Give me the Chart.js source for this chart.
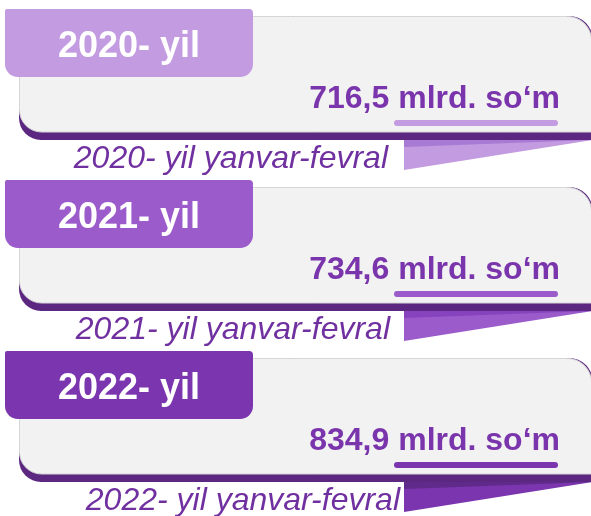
<!DOCTYPE html>
<html lang="uz">
<head>
<meta charset="UTF-8">
<title>Yanvar-fevral</title>
<script src="https://cdn.jsdelivr.net/npm/chart.js"></script>
<style>
    html, body { margin: 0; padding: 0; background: #fff; }
    .wrap { width: 591px; height: 516px; position: relative; }
</style>
</head>
<body>

<div class="wrap"><canvas id="yillar"></canvas></div>

<script>
    // Ma'lumotlar
    var years = ['2020', '2021', '2022'];
    var values = [716.5, 734.6, 834.9];
    var unit = 'mlrd. so‘m';
    var period = 'yanvar-fevral';

    // Ranglar (har bir yil uchun)
    var tabColors = ['#c39be0', '#9b5bcb', '#7b35ae'];
    var foldColors = ['#a87ad4', '#8743bd', '#5f2a8a'];
    var subRight = [388, 390, 400]; // pastki yozuv o'ng cheti

    function fmt(v) {
        return v.toFixed(1).replace('.', ',');
    }

    var cardsPlugin = {
        id: 'cards',
        afterDatasetsDraw: function(chart) {
            var ctx = chart.ctx;
            var ys = chart.scales.y;
            var half = (ys.getPixelForValue(1) - ys.getPixelForValue(0)) / 2;
            var vals = chart.data.datasets[0].data;

            chart.data.labels.forEach(function(year, i) {
                var t = ys.getPixelForValue(i) - half;
                ctx.save();

                // to'q binafsha pastki chiziq
                ctx.fillStyle = '#5c2780';
                ctx.beginPath();
                ctx.roundRect(19, t + 16, 574, 124, [0, 24, 0, 22]);
                ctx.fill();

                // kulrang panel
                ctx.fillStyle = '#f2f2f2';
                ctx.strokeStyle = '#d6d6d6';
                ctx.lineWidth = 1;
                ctx.beginPath();
                ctx.roundRect(19.5, t + 16.5, 572, 115.5, [0, 24, 0, 22]);
                ctx.fill();
                ctx.stroke();

                // qiymat tagidagi chiziq
                ctx.fillStyle = tabColors[i];
                ctx.beginPath();
                ctx.roundRect(394, t + 120, 164, 6, 3);
                ctx.fill();

                // qiymat
                ctx.fillStyle = '#7a35ac';
                ctx.font = 'bold 32px "Liberation Sans", Arial, sans-serif';
                ctx.textAlign = 'right';
                ctx.textBaseline = 'alphabetic';
                ctx.fillText(fmt(vals[i]) + ' ' + unit, 560, t + 108);

                // uchburchak
                ctx.fillStyle = tabColors[i];
                ctx.beginPath();
                ctx.moveTo(404, t + 140);
                ctx.lineTo(592, t + 140);
                ctx.lineTo(404, t + 170);
                ctx.closePath();
                ctx.fill();
                ctx.fillStyle = foldColors[i];
                ctx.beginPath();
                ctx.moveTo(404, t + 140);
                ctx.lineTo(592, t + 140);
                ctx.lineTo(404, t + 147);
                ctx.closePath();
                ctx.fill();

                // davr yozuvi
                ctx.fillStyle = '#7030a0';
                ctx.font = 'italic 32px "Liberation Sans", Arial, sans-serif';
                ctx.textAlign = 'right';
                ctx.fillText(year + '- yil ' + period, subRight[i], t + 168);

                // yil yorlig'i
                ctx.fillStyle = tabColors[i];
                ctx.beginPath();
                ctx.roundRect(5, t + 9, 248, 68, [2, 4, 13, 13]);
                ctx.fill();
                ctx.fillStyle = '#ffffff';
                ctx.font = 'bold 36px "Liberation Sans", Arial, sans-serif';
                ctx.textAlign = 'center';
                ctx.fillText(year + '- yil', 129, t + 57);

                ctx.restore();
            });
        }
    };

    var ctx = document.getElementById('yillar').getContext('2d');
    var chart = new Chart(ctx, {
        type: 'bar',
        data: {
            labels: years,
            datasets: [{
                label: unit,
                data: values,
                backgroundColor: 'rgba(0, 0, 0, 0)'
            }]
        },
        options: {
            indexAxis: 'y',
            responsive: true,
            maintainAspectRatio: false,
            animation: false,
            layout: { padding: { top: 0, bottom: 3, left: 0, right: 0 } },
            plugins: {
                legend: { display: false },
                tooltip: { enabled: false }
            },
            scales: {
                x: { display: false, min: 0, max: 1000 },
                y: { display: false, offset: true }
            }
        },
        plugins: [cardsPlugin]
    });
</script>

</body>
</html>
